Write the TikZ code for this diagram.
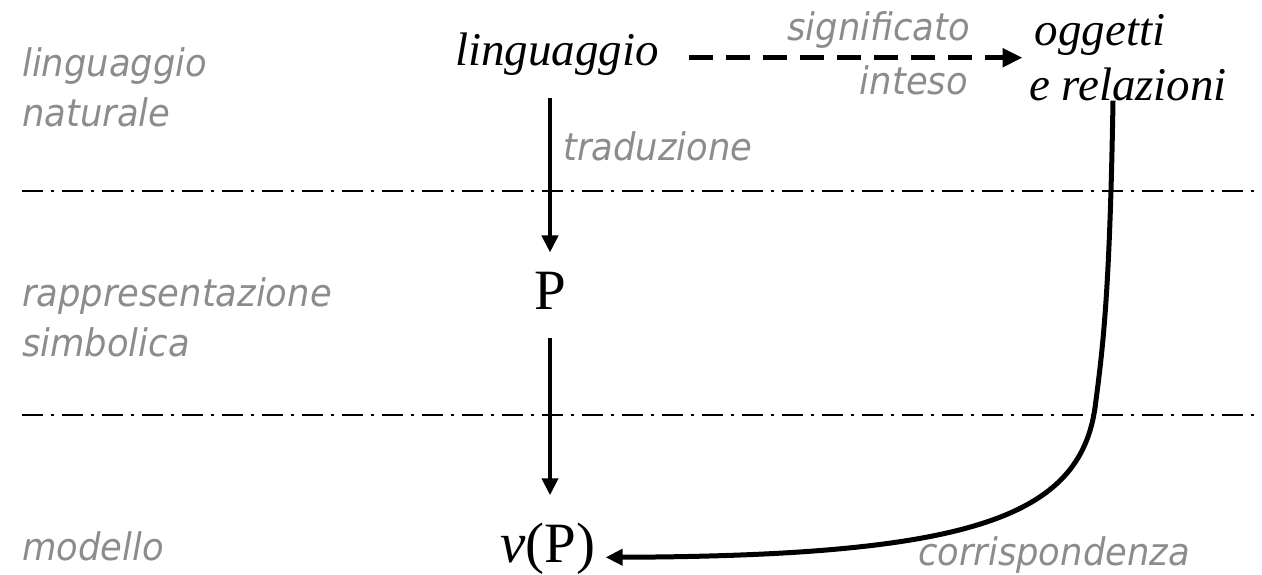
\documentclass[tikz,border=0pt]{standalone}
\usepackage{fontspec}
\setmainfont{Liberation Serif}
\newfontfamily\labfont[FakeStretch=0.93]{DejaVu Sans}
\usetikzlibrary{arrows.meta}
\definecolor{labgray}{RGB}{140,140,140}
\tikzset{
  lab/.style={font=\labfont\itshape\fontsize{38}{50}\selectfont, text=labgray, inner sep=0pt},
  main/.style={font=\itshape\fontsize{47}{50}\selectfont, inner sep=0pt},
  sym/.style={font=\fontsize{57}{60}\selectfont, inner sep=0pt},
  sepline/.style={line width=2pt, dash pattern=on 21pt off 8pt on 3pt off 8pt},
  conn/.style={line width=4pt, -{Triangle[length=17pt,width=16pt]}},
  dconn/.style={line width=5pt, dash pattern=on 24pt off 13pt, -{Triangle[length=20pt,width=18pt]}},
}
\begin{document}
\begin{tikzpicture}[x=1pt,y=-1pt]
\useasboundingbox (0,0) rectangle (1262,574);
% separators
\draw[sepline] (22,191) -- (1262,191);
\draw[sepline] (22,415) -- (1262,415);
% left labels
\node[lab, anchor=base west] (lnat) at (22,76) {\vtop{\hbox{linguaggio}\hbox{naturale}}};
\node[lab, anchor=base west] (rsim) at (22,306) {\vtop{\hbox{rappresentazione}\hbox{simbolica}}};
\node[lab, anchor=base west] (mod) at (22,560) {modello};
% main nodes
\node[main, anchor=base] (ling) at (557,65) {linguaggio};
\node[main, anchor=base] (ogg) at (1100,45) {oggetti};
\node[main, anchor=base] (rel) at (1128,100) {e relazioni};
\node[sym, anchor=base] (P) at (550,309) {P};
\node[sym, anchor=base] (vP) at (548,562) {\textit{v}(P)};
% edge labels
\node[lab, anchor=base east] (sig) at (970,40) {significato};
\node[lab, anchor=base east] (int) at (968,94) {inteso};
\node[lab, anchor=base west] (trad) at (563,160) {traduzione};
\node[lab, anchor=base west] (corr) at (918,565) {corrispondenza};
% connectors
\draw[dconn, shorten <=30pt, shorten >=12pt] ([yshift=-4pt]ling.east) -- ([yshift=-4pt]ling.east -| ogg.west);
\draw[conn, shorten <=23pt, shorten >=19pt] (P |- ling.south) -- (P.north);
\draw[conn, shorten <=29pt, shorten >=27pt] (P.south) -- (P.south |- vP.north);
\draw[conn, line width=5pt] ([xshift=-15pt]rel.south) .. controls (1110,280) and (1104,340) .. (1096,400) .. controls (1084,515) and (980,556) .. ([xshift=10pt,yshift=-9pt]vP.east);
\end{tikzpicture}
\end{document}
